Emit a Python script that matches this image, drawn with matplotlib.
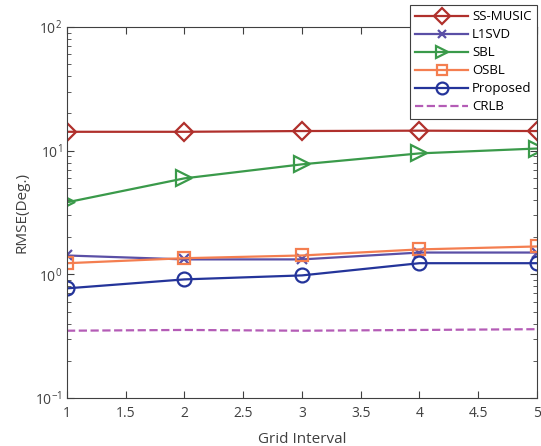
"""
RMSE vs grid interval
"""

import matplotlib
matplotlib.use("Agg")
import matplotlib.pyplot as plt
import numpy as np

plt.rcParams['font.family'] = ['Open Sans', 'DejaVu Sans']

grid = [1, 2, 3, 4, 5]
ss_music = [14.2, 14.2, 14.4, 14.5, 14.4]
l1svd = [1.42, 1.32, 1.32, 1.50, 1.50]
sbl = [3.82, 5.97, 7.75, 9.5, 10.4]
osbl = [1.23, 1.35, 1.42, 1.59, 1.68]
proposed = [0.77, 0.91, 0.98, 1.23, 1.23]
crlb = [0.35, 0.355, 0.35, 0.355, 0.36]

fig = plt.figure(figsize=(5.41, 4.46), dpi=100)
ax = fig.add_axes([0.1238, 0.1076, 0.8688, 0.832])

ax.plot(grid, ss_music, color="#B0302C", marker="D", ms=9, mfc="none", mew=1.6, lw=1.6, label="SS-MUSIC")
ax.plot(grid, l1svd, color="#5A4FA6", marker="x", ms=7, mew=1.6, lw=1.6, label="L1SVD")
ax.plot(grid, sbl, color="#3A9A4A", marker=">", ms=11, mfc="none", mew=1.6, lw=1.6, label="SBL")
ax.plot(grid, osbl, color="#F47E50", marker="s", ms=8, mfc="none", mew=1.6, lw=1.6, label="OSBL")
ax.plot(grid, proposed, color="#24349A", marker="o", ms=10, mfc="none", mew=1.6, lw=1.6, label="Proposed")
ax.plot(grid, crlb, color="#B45CB6", ls="--", lw=1.6, label="CRLB")

ax.set_yscale("log")
ax.set_xlim(1, 5)
ax.set_ylim(0.1, 100)
ax.set_xticks(np.arange(1, 5.01, 0.5))
ax.set_xticklabels(["1", "1.5", "2", "2.5", "3", "3.5", "4", "4.5", "5"])
ax.tick_params(which="both", direction="in", top=True, right=True, colors="#404040", labelcolor="#404040", labelsize=10)
ax.tick_params(which="major", length=5)
ax.tick_params(which="minor", length=3)
ax.tick_params(axis="x", pad=6)
for s in ax.spines.values():
    s.set_color("#404040")

ax.set_xlabel("Grid Interval", fontsize=11, color="#404040", labelpad=8)
ax.set_ylabel("RMSE(Deg.)", fontsize=11, color="#404040")

leg = ax.legend(loc="upper right", bbox_to_anchor=(537 / 541, 1 - 5 / 446), bbox_transform=fig.transFigure,
                fancybox=False, framealpha=1, edgecolor="#404040", fontsize=9.5, markerscale=0.85,
                handlelength=4.0, borderaxespad=0, labelspacing=0.38, handletextpad=0.3, borderpad=0.4)
leg.get_frame().set_linewidth(0.8)

fig.savefig("out.png", dpi=100)
